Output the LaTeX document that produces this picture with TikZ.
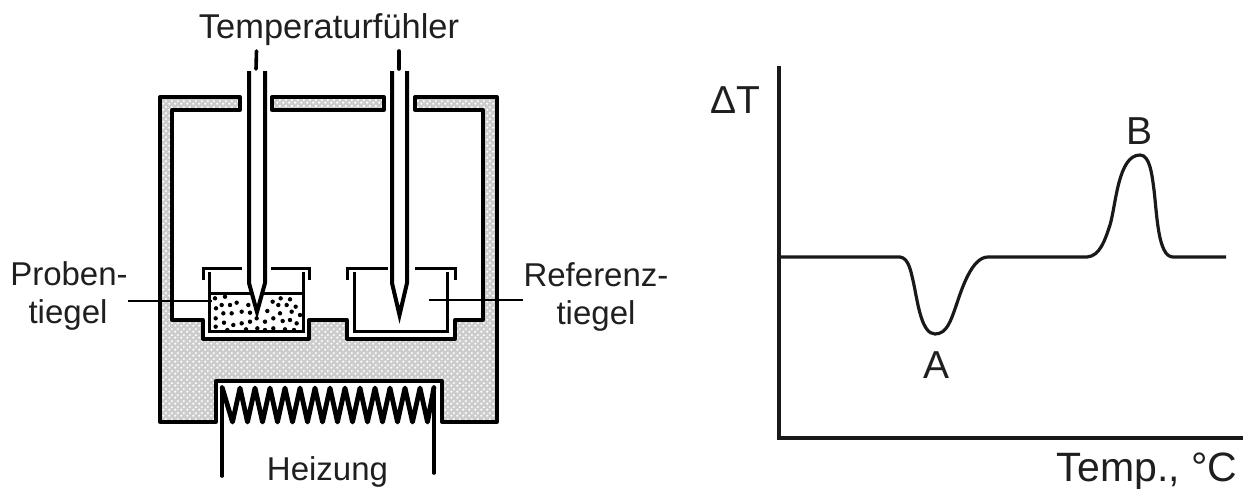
\documentclass[tikz,border=0pt]{standalone}
\usepackage{fontspec}
\setmainfont{Liberation Sans}
\usetikzlibrary{patterns}
\pgfdeclarepatternformonly{stagdots}{\pgfqpoint{0pt}{0pt}}{\pgfqpoint{6pt}{6pt}}{\pgfqpoint{6pt}{6pt}}{%
  \pgfpathcircle{\pgfqpoint{1.5pt}{1.5pt}}{1.4pt}%
  \pgfpathcircle{\pgfqpoint{4.5pt}{4.5pt}}{1.4pt}%
  \pgfusepath{fill}}
\tikzset{
  casing/.style={draw=black,line width=3.3pt,line join=round},
  casingfill/.style={fill=black!20},
  dotsfill/.style={pattern=stagdots,pattern color=white},
  probe/.style={draw=black,line width=4pt,line join=miter,fill=white},
  thin wall/.style={draw=black,line width=3pt},
  leader/.style={draw=black,line width=2.2pt},
  wire/.style={draw=black,line width=3.6pt,line cap=round},
  coil/.style={draw=black,line width=4.8pt,line join=round},
  axisline/.style={draw=black!90,line width=3.2pt},
  lbl/.style={inner sep=0pt,anchor=base,font=\fontsize{33}{36}\selectfont,text=black!88},
  biglbl/.style={inner sep=0pt,anchor=base,font=\fontsize{39}{44}\selectfont,text=black!88}
}
\begin{document}
\begin{tikzpicture}[x=1pt,y=-1pt]
\useasboundingbox (0,0) rectangle (1246,488);
% casing
\def\casingpath{(240,97) -- (160,97) -- (160,422) -- (216,422) -- (216,381) -- (442,381) -- (442,422) -- (497,422) -- (497,97) -- (415,97) -- (415,110) -- (483,110) -- (483,320) -- (455,320) -- (455,339) -- (347,339) -- (347,320) -- (309,320) -- (309,339) -- (203,339) -- (203,320) -- (172,320) -- (172,110) -- (240,110) -- cycle}
\fill[casingfill] \casingpath;
\fill[casingfill] (272,97) rectangle (384,110);
\fill[dotsfill] \casingpath;
\fill[dotsfill] (272,97) rectangle (384,110);
\draw[casing] \casingpath;
\draw[casing] (272,97) rectangle (384,110);
% sample crucible
\draw[thin wall,fill=white] (209,272) -- (209,331) -- (303,331) -- (303,272);
\draw[thin wall] (203,280) -- (203,268) -- (242,268);
\draw[thin wall] (271,268) -- (309,268) -- (309,280);
\draw[thin wall] (209,293) -- (303,293);
\foreach \x/\y in {195/145,225/140,260/158,240/165,215/165,198/175,245/190,220/190,275/185,300/188,295/165,330/140,368/155,392/145,420/148,437/170,410/165,385/165,352/183,390/190,370/205,345/215,322/235,300/215,275/220,250/225,222/218,197/205,197/230,232/240,288/238,345/240,370/235,405/238,432/240,398/213,420/210,440/220,450/195,425/185,320/205}
  \fill[black] ({150+\x/3},{250+\y/3}) circle (2.2);
% reference crucible
\draw[thin wall,fill=white] (354,272) -- (354,331) -- (447,331) -- (447,272);
\draw[thin wall] (347,280) -- (347,268) -- (388,268);
\draw[thin wall] (415,268) -- (455,268) -- (455,280);
% probes
\draw[probe] (249,71) -- (249,283) -- (257,312) -- (265,283) -- (265,71);
\draw[probe] (392,71) -- (392,283) -- (399.5,315) -- (407,283) -- (407,71);
\draw[wire] (256.5,51) -- (256,69);
\draw[wire] (399,51) -- (399,69);
% leaders
\coordinate (pl1) at (128,301); \coordinate (pl2) at (212,301);
\coordinate (rl1) at (429,300); \coordinate (rl2) at (523,300);
\draw[leader] (pl1) -- (pl2);
\draw[leader] (rl1) -- (rl2);
% heater
\coordinate (hl) at (222,476); \coordinate (hr) at (434,473);
\coordinate (hlt) at (222,387); \coordinate (hrt) at (434,387);
\draw[wire] (hl) -- (hlt);
\draw[wire] (hr) -- (hrt);
\draw[coil] (hlt) -- (232.5,422)
  \foreach \i in {0,...,12} { -- ({240+\i*15},388) -- ({247.5+\i*15},422) } -- (hrt);
% chart
\coordinate (o) at (779,438); \coordinate (ytop) at (779,66); \coordinate (xend) at (1243,438);
\draw[axisline] (ytop) -- (o) -- (xend);
\draw[draw=black!90,line width=3.2pt] (o |- 0,257) -- (900,257)
  .. controls (909,258) and (911,272) .. (914,285)
  .. controls (918,305) and (922,334) .. (935,334)
  .. controls (947,334) and (951,320) .. (956,306)
  .. controls (962,288) and (972,257) .. (988,257)
  -- (1087,257)
  .. controls (1100,256) and (1105,240) .. (1110,225)
  .. controls (1116,205) and (1118,155) .. (1140,155)
  .. controls (1150,155) and (1152,175) .. (1154,190)
  .. controls (1157,215) and (1158,257) .. (1173,257)
  -- (1226,257);
% labels
\node[lbl,font=\fontsize{34.4}{36}\selectfont] (t1) at (329,38) {Temperaturfühler};
\node[lbl] (t2) at (69,285) {Proben-};
\node[lbl] (t3) at (68,323) {tiegel};
\node[lbl] (t4) at (596,286) {Referenz-};
\node[lbl] (t5) at (596,324) {tiegel};
\node[lbl] (t6) at (327.5,480) {Heizung};
\node[biglbl] (t7) at (735.5,113) {ΔT};
\node[biglbl] (t8) at (1139,144) {B};
\node[biglbl] (t9) at (936,378) {A};
\node[biglbl,font=\fontsize{41}{44}\selectfont] (t10) at (1147,481) {Temp., °C};
\end{tikzpicture}
\end{document}
